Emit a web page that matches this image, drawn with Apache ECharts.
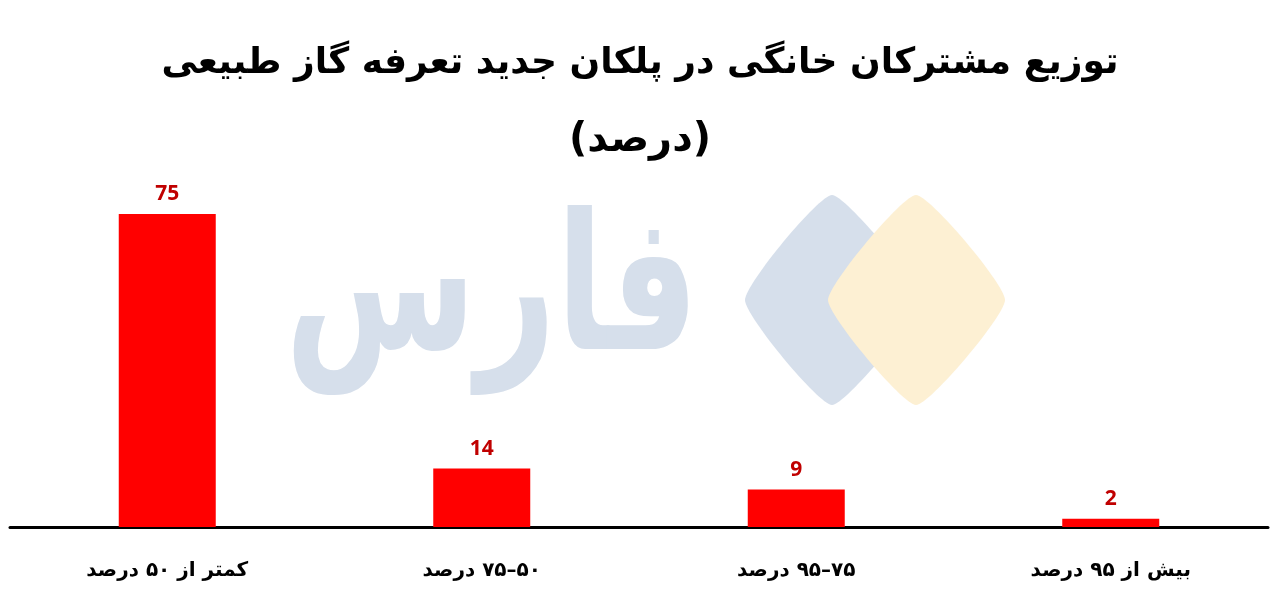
<!DOCTYPE html>
<html>
<head>
<meta charset="utf-8">
<script src="https://cdn.jsdelivr.net/npm/echarts@6/dist/echarts.min.js"></script>
<style>
html,body{margin:0;padding:0;background:#fff;}
#c{width:1280px;height:597px;}
</style>
</head>
<body>
<div id="c" dir="rtl"></div>
<script>
const titleText = 'توزیع مشترکان خانگی در پلکان جدید تعرفه گاز طبیعی';
const subtitleText = '(درصد)';
const categories = ['کمتر از ۵۰ درصد', '۵۰–۷۵ درصد', '۷۵–۹۵ درصد', 'بیش از ۹۵ درصد'];
const values = [75, 14, 9, 2];
const watermarkText = 'فارس';

const chart = echarts.init(document.getElementById('c'), null, {renderer: 'canvas'});
const FA = '"DejaVu Sans", "Noto Sans", sans-serif';
chart.setOption({
  backgroundColor: '#ffffff',
  animation: false,
  title: [
    {text: titleText, left: 'center', top: 41,
     textStyle: {fontFamily: FA, fontWeight: 'bold', fontSize: 36, color: '#000'}},
    {text: subtitleText, left: 'center', top: 116,
     textStyle: {fontFamily: FA, fontWeight: 'bold', fontSize: 40, color: '#000'}}
  ],
  graphic: [
    {type: 'text', x: 285, y: 205, scaleX: 0.84, scaleY: 1.15, z: -10, silent: true,
     style: {text: watermarkText, x: 0, y: 0, align: 'left', verticalAlign: 'top',
       fontFamily: FA, fontWeight: 'bold', fontSize: 165, fill: '#d6dfeb'}},
    {type: 'polygon', z: -10, silent: true,
     shape: {points: [[832,195],[920,300],[832,405],[745,300]], smooth: 0.15},
     style: {fill: '#d6dfeb'}},
    {type: 'polygon', z: -9, silent: true,
     shape: {points: [[916,195],[1005,300],[916,405],[828,300]], smooth: 0.15},
     style: {fill: '#fdf0d3'}}
  ],
  grid: {left: 10, right: 12, top: 214, bottom: 70, containLabel: false},
  xAxis: {
    type: 'category',
    data: categories,
    boundaryGap: true,
    axisLine: {show: true, lineStyle: {color: '#000', width: 3}},
    axisTick: {show: false},
    axisLabel: {margin: 34, fontFamily: FA, fontWeight: 'bold', fontSize: 20, color: '#000'},
    splitLine: {show: false}
  },
  yAxis: {
    type: 'value', min: 0, max: 75, show: false, splitLine: {show: false}
  },
  series: [{
    type: 'bar',
    data: values,
    barWidth: 97,
    itemStyle: {color: '#ff0000'},
    label: {show: true, position: 'top', distance: 9, color: '#c00000',
      fontFamily: '"Open Sans", "Liberation Sans", sans-serif', fontWeight: 'bold', fontSize: 21}
  }]
});
</script>
</body>
</html>
